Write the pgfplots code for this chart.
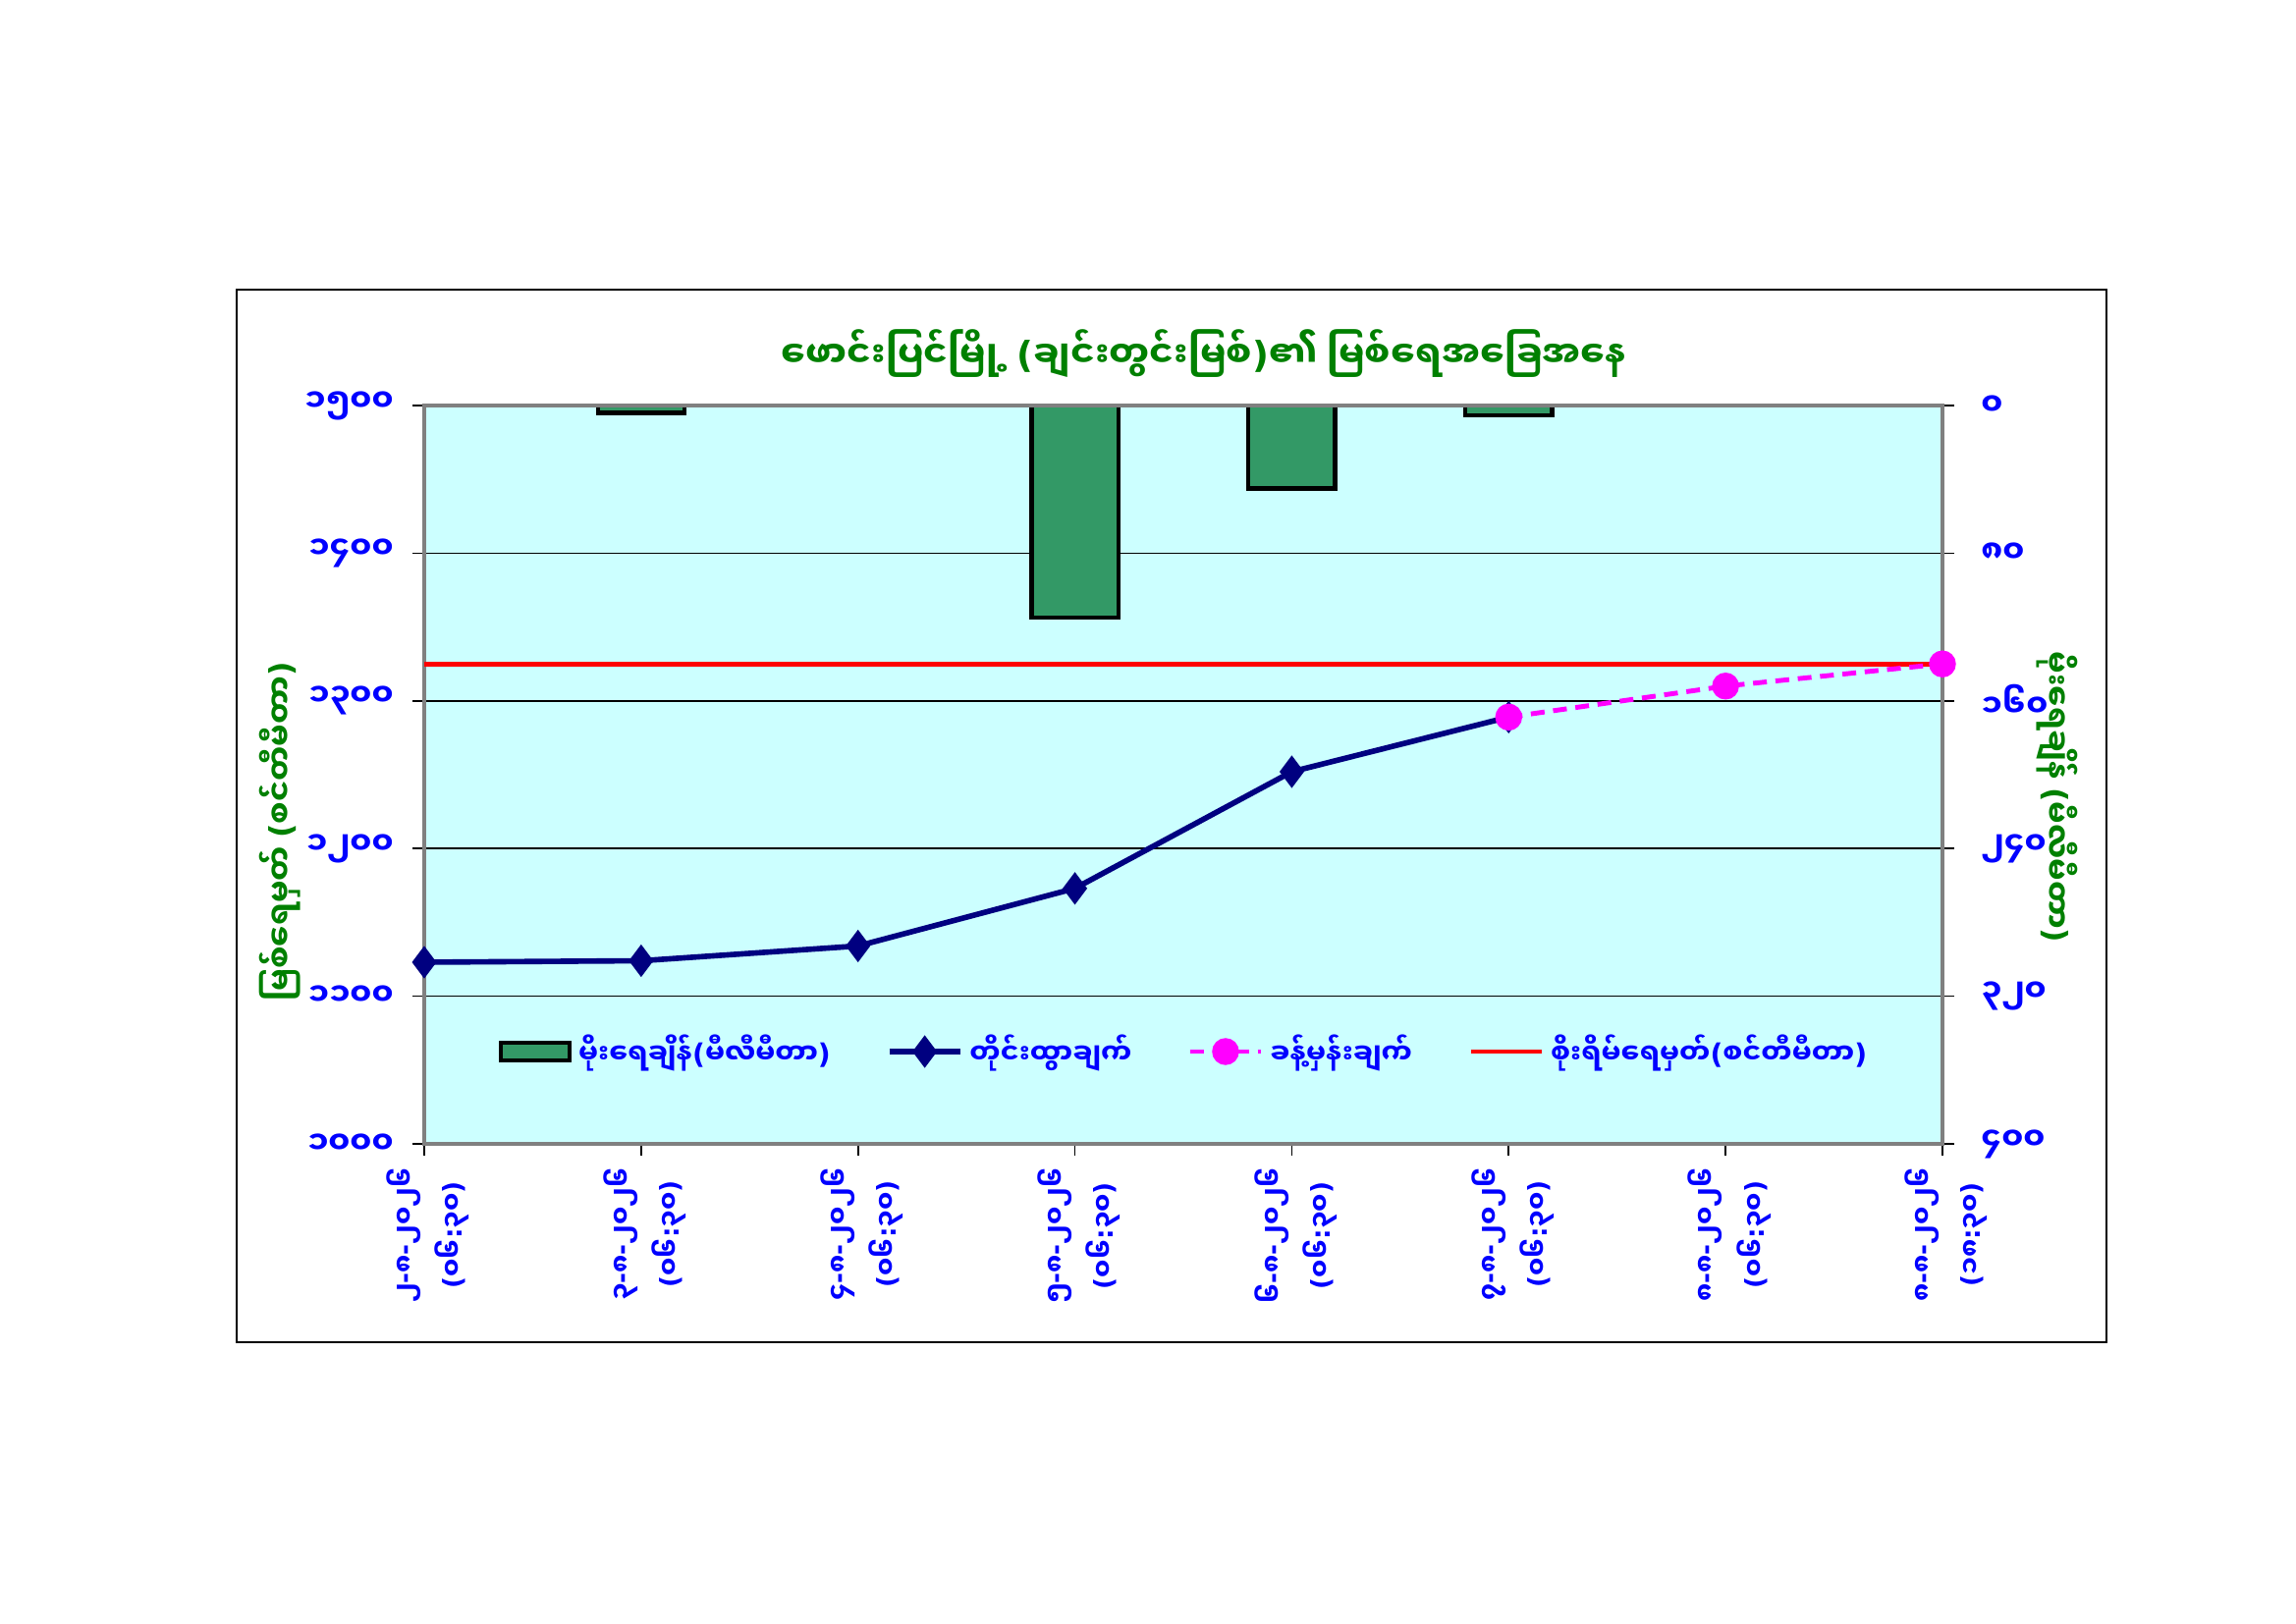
\documentclass[border=0pt]{standalone}
\usepackage{fontspec}
\usepackage{pgfplots}
\pgfplotsset{compat=1.18}
\newfontfamily\mmfont[Script=Myanmar]{Noto Sans Myanmar UI}
\newfontfamily\pfont{DejaVu Sans}
\newcommand\LP{{\pfont(}}
\newcommand\RP{{\pfont)}}
\newcommand\HY{{\pfont-}}
\newcommand\CL{{\pfont:}}
\newcommand\tickfont{\mmfont\bfseries\fontsize{7.5}{14}\selectfont\lineskiplimit=-100pt\relax}
\definecolor{bgcyan}{HTML}{CCFFFF}
\definecolor{barg}{HTML}{339966}
\definecolor{navyl}{HTML}{000080}
\definecolor{magl}{HTML}{FF00FF}
\definecolor{redl}{HTML}{FF0000}
\definecolor{tickblue}{HTML}{0000FF}
\definecolor{ttlgreen}{HTML}{008000}
\definecolor{framegray}{HTML}{808080}
\begin{document}
\begin{tikzpicture}[x=1cm,y=1cm]
\path[use as bounding box, fill=white] (0,0) rectangle (23.38,16.54);
\draw[black, line width=0.5pt] (2.41,2.87) rectangle (21.45,13.59);
% rain axis (right, reversed)
\begin{axis}[
  at={(4.32cm,4.89cm)}, anchor=south west,
  scale only axis, width=15.46cm, height=7.52cm,
  xmin=0, xmax=7, ymin=0, ymax=400, y dir=reverse,
  axis x line=none, axis y line*=right,
  axis line style={draw=framegray, line width=1.2pt},
  axis background/.style={fill=bgcyan},
  ytick={0,80,160,240,320,400},
  yticklabels={၀,၈၀,၁၆၀,၂၄၀,၃၂၀,၄၀၀},
  yticklabel style={font=\mmfont\bfseries\fontsize{9}{11}\selectfont, text=tickblue, anchor=west, xshift=0.15cm},
  tick align=outside, major tick length=0.12cm,
  tick style={black, line width=0.5pt},
  ymajorgrids, grid style={black, line width=0.5pt},
]
\addplot[ybar, bar width=0.4, fill=barg, draw=black, line width=1.2pt] coordinates {(1,4) (3,115) (4,45) (5,5.5)};
\end{axis}
% water level axis (left)
\begin{axis}[
  at={(4.32cm,4.89cm)}, anchor=south west,
  scale only axis, width=15.46cm, height=7.52cm,
  xmin=0, xmax=7, ymin=1000, ymax=1500,
  axis line style={draw=framegray, line width=1.2pt},
  ytick={1000,1100,1200,1300,1400,1500},
  yticklabels={၁၀၀၀,၁၁၀၀,၁၂၀၀,၁၃၀၀,၁၄၀၀,၁၅၀၀},
  ytick pos=left, xtick pos=bottom,
  xtick={0,1,2,3,4,5,6,7},
  xticklabels={{၂\HY၈\HY၂၀၂၆\\\LP၀၆\CL၃၀\RP},{၃\HY၈\HY၂၀၂၆\\\LP၀၆\CL၃၀\RP},{၄\HY၈\HY၂၀၂၆\\\LP၀၆\CL၃၀\RP},{၅\HY၈\HY၂၀၂၆\\\LP၀၆\CL၃၀\RP},{၆\HY၈\HY၂၀၂၆\\\LP၀၆\CL၃၀\RP},{၇\HY၈\HY၂၀၂၆\\\LP၀၆\CL၃၀\RP},{၈\HY၈\HY၂၀၂၆\\\LP၀၆\CL၃၀\RP},{၈\HY၈\HY၂၀၂၆\\\LP၁၈\CL၃၀\RP}},
  yticklabel style={font=\mmfont\bfseries\fontsize{9}{11}\selectfont, text=tickblue, anchor=east, xshift=-0.07cm},
  xticklabel style={font=\tickfont, text=tickblue, rotate=90, anchor=east, align=center, yshift=-0.04cm},
  tick align=outside, major tick length=0.12cm,
  tick style={black, line width=0.5pt},
  legend columns=4,
  legend style={at={(0.502,0.125)}, anchor=center, draw=none, fill=none,
    font=\mmfont\bfseries\fontsize{8}{10}\selectfont, text=tickblue,
    /tikz/every even column/.append style={column sep=0.5cm}},
  legend cell align=left,
]
\addplot[redl, line width=1.4pt, forget plot] coordinates {(0,1325) (1,1325) (2,1325) (3,1325) (4,1325) (5,1325) (6,1325) (7,1325)};
\addplot[navyl, line width=1.6pt, mark=diamond*, mark size=3.4pt, forget plot] coordinates {(0,1123) (1,1124) (2,1134) (3,1173) (4,1252) (5,1289)};
\addplot[magl, line width=1.4pt, dash pattern=on 4pt off 2.5pt, mark=*, mark size=3.2pt, mark options={solid}, forget plot] coordinates {(5,1289) (6,1310) (7,1325)};
\addlegendimage{legend image code/.code={\draw[fill=barg, draw=black, line width=1.2pt] (0cm,-0.09cm) rectangle (0.7cm,0.09cm);}}
\addlegendentry{မိုးရေချိန်\LP မီလီမီတာ\RP}
\addlegendimage{legend image code/.code={\draw[navyl, line width=1.6pt, mark=diamond*, mark size=3.4pt, mark repeat=2, mark phase=2] plot coordinates {(0cm,0cm) (0.36cm,0cm) (0.72cm,0cm)};}}
\addlegendentry{တိုင်းထွာချက်}
\addlegendimage{legend image code/.code={\draw[magl, line width=1.4pt, dash pattern=on 4pt off 2.5pt, mark=*, mark size=3.2pt, mark options={solid}, mark repeat=2, mark phase=2] plot coordinates {(0cm,0cm) (0.36cm,0cm) (0.72cm,0cm)};}}
\addlegendentry{ခန့်မှန်းချက်}
\addlegendimage{legend image code/.code={\draw[redl, line width=1.4pt] (0cm,0cm) -- (0.72cm,0cm);}}
\addlegendentry{စိုးရိမ်ရေမှတ်\LP စင်တီမီတာ\RP}
\end{axis}
\node[font=\mmfont\bfseries\fontsize{10.5}{13}\selectfont, text=ttlgreen] at (12.26,12.94) {ဖောင်းပြင်မြို့ \LP ချင်းတွင်းမြစ်\RP ၏ မြစ်ရေအခြေအနေ};
\node[font=\mmfont\bfseries\fontsize{9}{11}\selectfont, text=ttlgreen, rotate=90] at (2.85,8.07) {မြစ်ရေမှတ် \LP စင်တီမီတာ\RP};
\node[font=\mmfont\bfseries\fontsize{9}{11}\selectfont, text=ttlgreen, rotate=-90] at (20.95,8.42) {မိုးရေချိန် \LP မီလီမီတာ\RP};
\end{tikzpicture}
\end{document}
